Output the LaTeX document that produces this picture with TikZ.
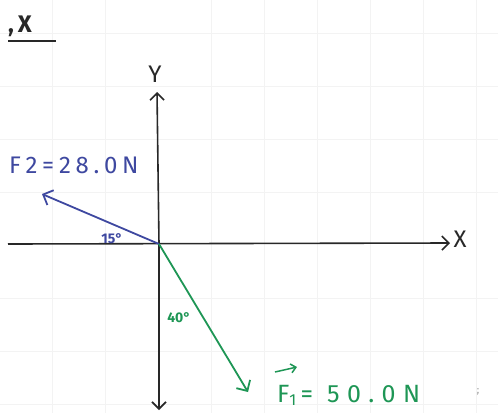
\documentclass[tikz,border=0pt]{standalone}
\usepackage{fontspec}
\setmainfont{Fira Sans}
\usetikzlibrary{arrows.meta}
\definecolor{penblue}{RGB}{62,72,160}
\definecolor{pengreen}{RGB}{30,150,85}
\definecolor{penblack}{RGB}{40,40,40}
\definecolor{gridc}{RGB}{243,243,243}
\tikzset{
  axis/.style={draw=penblack, line width=1.6pt, -{Straight Barb[length=7pt,width=14pt,line width=1.6pt]}},
  vec/.style={line width=1.8pt, -{Straight Barb[length=8pt,width=16pt,line width=1.8pt]}},
  lbl/.style={font=\fontsize{24}{26}\selectfont\addfontfeatures{LetterSpace=20}, inner sep=0pt},
  small/.style={font=\fontsize{14}{15}\selectfont\bfseries, inner sep=0pt}
}
\begin{document}
\begin{tikzpicture}[x=1pt,y=-1pt]
\useasboundingbox (0,0) rectangle (498,413);
\fill[white] (0,0) rectangle (498,413);
% faint graph paper
\foreach \gx in {52,105,211,264,317,370,423,476}
  \draw[gridc, line width=0.8pt] (\gx,0) -- (\gx,413);
\foreach \gy in {33,86,139,192,298,351,404}
  \draw[gridc, line width=0.8pt] (0,\gy) -- (498,\gy);
% axes
\coordinate (O) at (159,244);
\coordinate (xl) at (8,244);
\coordinate (xr) at (450,243);
\coordinate (yb) at (159,410);
\coordinate (yt) at (157,92);
\draw[axis] (xl) -- (xr);
\draw[axis] (O) -- (yt);
\draw[axis] (O) -- (yb);
\node[lbl, text=penblack] (X) at (460,239) {X};
\node[lbl, text=penblack] (Y) at (155,74) {Y};
% title
\node[text=penblack, anchor=base west, inner sep=0pt, font=\fontsize{24}{26}\selectfont\bfseries] (title) at (8,32) {,\,X};
\coordinate (u1) at (8,41);
\coordinate (u2) at (56,41);
\draw[penblack, line width=1.8pt] (u1) -- (u2);
% F2
\coordinate (F2tip) at (42,194);
\draw[vec, penblue] (O) -- (F2tip);
\node[lbl, text=penblue, anchor=base west] (F2l) at (9,173) {F2=28.0N};
\node[small, text=penblue] (a15) at (112,239) {15°};
% F1
\coordinate (F1tip) at (248,392);
\draw[vec, pengreen] (O) -- (F1tip);
\node[small, text=pengreen] (a40) at (179,318) {40°};
\node[lbl, text=pengreen, anchor=base west, font=\fontsize{25}{26}\selectfont\addfontfeatures{LetterSpace=30}] (F1l) at (277,402) {F\raisebox{-3pt}{\fontsize{16}{16}\selectfont 1}\,= 50.0N};
\coordinate (ar1) at (275,372);
\coordinate (ar2) at (297,367);
\draw[pengreen, line width=1.5pt, -{Straight Barb[length=5pt,width=9pt,line width=1.5pt]}] (ar1) -- (ar2);
\node[font=\fontsize{10}{10}\selectfont, text=penblack!50, inner sep=0pt] (dot) at (478,392) {;};
\end{tikzpicture}
\end{document}
